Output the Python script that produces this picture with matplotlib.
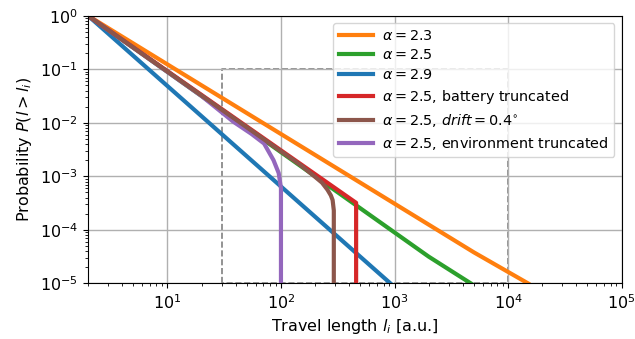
import numpy as np
import matplotlib
matplotlib.use("Agg")
import matplotlib.pyplot as plt

# values (travel length, P(>l))
x_a23 = [2, 5000, 15000]
y_a23 = [1.0, 3.8e-5, 1.0e-5]

x_a25 = [2, 2000, 4700]
y_a25 = [1.0, 3.16e-5, 1.0e-5]

x_a29 = [2, 920]
y_a29 = [1.0, 1.0e-5]

x_batt = [2, 459, 459]
y_batt = [1.0, 3.2e-4, 1.0e-5]

x_drift = [2, 150, 197, 230, 257, 275, 285, 292, 292]
y_drift = [1.0, 1.6e-3, 1.0e-3, 7.6e-4, 5.6e-4, 4.4e-4, 3.6e-4, 2.3e-4, 1.0e-5]

x_env = [2, 20, 38, 55, 71, 86, 95.5, 100, 100]
y_env = [1.0, 3.16e-2, 1.05e-2, 6.2e-3, 4.1e-3, 2.0e-3, 1.15e-3, 6.0e-4, 1.0e-5]

# dashed region
box_x = [30, 30, 1e4, 1e4, 30]
box_y = [1e-5, 0.1, 0.1, 1e-5, 1e-5]

labels = [r'$\alpha = 2.3$', r'$\alpha = 2.5$', r'$\alpha = 2.9$',
          r'$\alpha = 2.5$, battery truncated',
          r'$\alpha = 2.5$, $drift = 0.4^{\circ}$',
          r'$\alpha = 2.5$, environment truncated']

fig = plt.figure(figsize=(6.35, 3.39), dpi=100)
ax = fig.add_axes([0.1386, 0.164, 0.8404, 0.7897])

lw = 3
ax.plot(box_x, box_y, color='gray', ls='--', lw=1.2, zorder=1.5)
l_green, = ax.plot(x_a25, y_a25, color='tab:green', lw=lw)
l_blue, = ax.plot(x_a29, y_a29, color='tab:blue', lw=lw)
l_orange, = ax.plot(x_a23, y_a23, color='tab:orange', lw=lw)
l_purple, = ax.plot(x_env, y_env, color='tab:purple', lw=lw)
l_red, = ax.plot(x_batt, y_batt, color='tab:red', lw=lw)
l_brown, = ax.plot(x_drift, y_drift, color='tab:brown', lw=lw)

ax.set_xscale('log')
ax.set_yscale('log')
ax.set_xlim(2, 1e5)
ax.set_ylim(1e-5, 1)
ax.grid(True, which='major', color='#b0b0b0', lw=1)
ax.set_xlabel('Travel length $l_i$ [a.u.]', fontsize=11.5)
ax.set_ylabel('Probability $P(l > l_i)$', fontsize=11.5)
ax.tick_params(labelsize=11.5)

ax.legend([l_orange, l_green, l_blue, l_red, l_brown, l_purple], labels,
          loc='upper right', fontsize=10.4, handlelength=2.35,
          handletextpad=0.65, labelspacing=0.4)

fig.savefig('out.png', dpi=100)
